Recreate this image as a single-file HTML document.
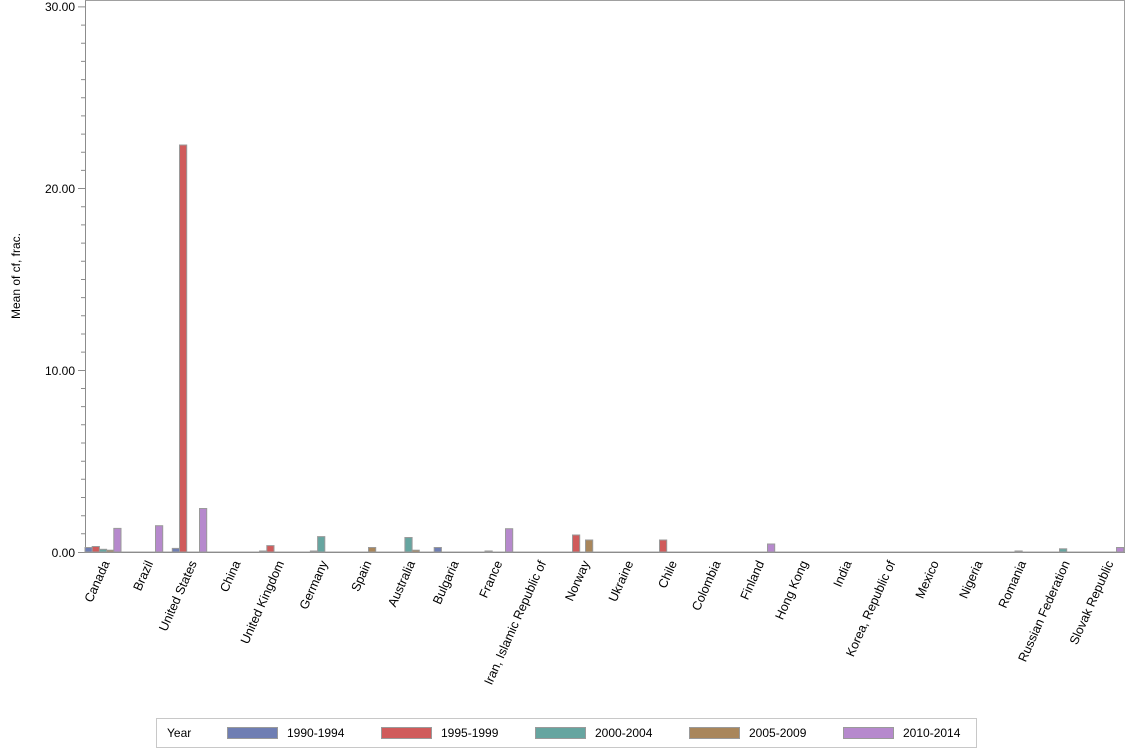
<!DOCTYPE html>
<html><head><meta charset="utf-8"><style>
html,body{margin:0;padding:0;background:#fff;}
svg{display:block;font-family:"Liberation Sans",Arial,sans-serif;}
</style></head><body>
<svg width="1134" height="756" viewBox="0 0 1134 756" xmlns="http://www.w3.org/2000/svg">
<rect x="0" y="0" width="1134" height="756" fill="#fff"/>
<rect x="85.5" y="0.5" width="1039" height="551.5" fill="none" stroke="#a0a0a0" stroke-width="1"/>
<g stroke="#8c8c8c" stroke-width="1" fill="none">
<path d="M85.5 0.5V552M85 552.5H1125"/>
<path d="M78 552.5h7M78 370.5h7M78 188.5h7M78 6.9h7"/>
<path d="M81 533.8h4M81 515.7h4M81 497.5h4M81 479.3h4M81 461.2h4M81 443h4M81 424.8h4M81 406.6h4M81 388.5h4M81 352.1h4M81 334h4M81 315.8h4M81 297.6h4M81 279.5h4M81 261.3h4M81 243.1h4M81 224.9h4M81 206.8h4M81 170.4h4M81 152.3h4M81 134.1h4M81 115.9h4M81 97.8h4M81 79.6h4M81 61.4h4M81 43.2h4M81 25.1h4"/>
</g>
<g font-size="12" fill="#000" text-anchor="end">
<text x="75" y="557">0.00</text>
<text x="75" y="375">10.00</text>
<text x="75" y="193">20.00</text>
<text x="75" y="11">30.00</text>
</g>
<text x="20" y="276" font-size="12" text-anchor="middle" transform="rotate(-90 20 276)">Mean of cf, frac.</text>
<g stroke="#9a9a9a" stroke-width="1">
<rect x="85" y="547.5" width="7.2" height="4.5" fill="#6f7eb3"/>
<rect x="92.2" y="546.5" width="7.2" height="5.5" fill="#d05b5b"/>
<rect x="99.4" y="549.3" width="7.2" height="2.7" fill="#66a5a0"/>
<rect x="106.6" y="550.2" width="7.2" height="1.8" fill="#a9865b"/>
<rect x="113.8" y="528.4" width="7.2" height="23.6" fill="#b689cd"/>
<rect x="155.5" y="525.7" width="7.2" height="26.3" fill="#b689cd"/>
<rect x="172.3" y="548.4" width="7.2" height="3.6" fill="#6f7eb3"/>
<rect x="179.5" y="145" width="7.2" height="407" fill="#d05b5b"/>
<rect x="199.5" y="508.5" width="7.2" height="43.5" fill="#b689cd"/>
<rect x="259.6" y="551" width="7.2" height="1" fill="#66a5a0"/>
<rect x="266.8" y="545.6" width="7.2" height="6.4" fill="#d05b5b"/>
<rect x="310.4" y="551" width="7.2" height="1" fill="#66a5a0"/>
<rect x="317.6" y="536.6" width="7.2" height="15.4" fill="#66a5a0"/>
<rect x="368.5" y="547.5" width="7.2" height="4.5" fill="#a9865b"/>
<rect x="404.9" y="537.5" width="7.2" height="14.5" fill="#66a5a0"/>
<rect x="412.1" y="550.2" width="7.2" height="1.8" fill="#a9865b"/>
<rect x="434.2" y="547.5" width="7.2" height="4.5" fill="#6f7eb3"/>
<rect x="485" y="551" width="7.2" height="1" fill="#a9865b"/>
<rect x="505.5" y="528.7" width="7.2" height="23.3" fill="#b689cd"/>
<rect x="572.5" y="535" width="7.2" height="17" fill="#d05b5b"/>
<rect x="585.5" y="540" width="7.2" height="12" fill="#a9865b"/>
<rect x="659.5" y="540" width="7.2" height="12" fill="#d05b5b"/>
<rect x="767.5" y="544" width="7.2" height="8" fill="#b689cd"/>
<rect x="1015" y="551" width="7.2" height="1" fill="#a9865b"/>
<rect x="1059.5" y="548.8" width="7.2" height="3.2" fill="#66a5a0"/>
<rect x="1116.5" y="547.5" width="7.2" height="4.5" fill="#b689cd"/>
</g>
<g font-size="12.6" fill="#000" text-anchor="end">
<text transform="translate(109.8,563) rotate(-66)">Canada</text>
<text transform="translate(153.4,563) rotate(-66)">Brazil</text>
<text transform="translate(197.1,563) rotate(-66)">United States</text>
<text transform="translate(240.7,563) rotate(-66)">China</text>
<text transform="translate(284.4,563) rotate(-66)">United Kingdom</text>
<text transform="translate(328,563) rotate(-66)">Germany</text>
<text transform="translate(371.7,563) rotate(-66)">Spain</text>
<text transform="translate(415.3,563) rotate(-66)">Australia</text>
<text transform="translate(459,563) rotate(-66)">Bulgaria</text>
<text transform="translate(502.6,563) rotate(-66)">France</text>
<text transform="translate(546.3,563) rotate(-66)">Iran, Islamic Republic of</text>
<text transform="translate(589.9,563) rotate(-66)">Norway</text>
<text transform="translate(633.6,563) rotate(-66)">Ukraine</text>
<text transform="translate(677.2,563) rotate(-66)">Chile</text>
<text transform="translate(720.9,563) rotate(-66)">Colombia</text>
<text transform="translate(764.5,563) rotate(-66)">Finland</text>
<text transform="translate(808.2,563) rotate(-66)">Hong Kong</text>
<text transform="translate(851.8,563) rotate(-66)">India</text>
<text transform="translate(895.5,563) rotate(-66)">Korea, Republic of</text>
<text transform="translate(939.1,563) rotate(-66)">Mexico</text>
<text transform="translate(982.8,563) rotate(-66)">Nigeria</text>
<text transform="translate(1026.4,563) rotate(-66)">Romania</text>
<text transform="translate(1070.1,563) rotate(-66)">Russian Federation</text>
<text transform="translate(1113.7,563) rotate(-66)">Slovak Republic</text>
</g>
<rect x="156.5" y="718.5" width="820" height="29" fill="#fff" stroke="#c8c8c8"/>
<g font-size="12" fill="#000">
<text x="167" y="737">Year</text>
<rect x="227.5" y="727.5" width="50" height="11" fill="#6f7eb3" stroke="#9a9a9a"/>
<text x="287" y="737">1990-1994</text>
<rect x="381.5" y="727.5" width="50" height="11" fill="#d05b5b" stroke="#9a9a9a"/>
<text x="441" y="737">1995-1999</text>
<rect x="535.5" y="727.5" width="50" height="11" fill="#66a5a0" stroke="#9a9a9a"/>
<text x="595" y="737">2000-2004</text>
<rect x="689.5" y="727.5" width="50" height="11" fill="#a9865b" stroke="#9a9a9a"/>
<text x="749" y="737">2005-2009</text>
<rect x="843.5" y="727.5" width="50" height="11" fill="#b689cd" stroke="#9a9a9a"/>
<text x="903" y="737">2010-2014</text>
</g>
</svg>
</body></html>
